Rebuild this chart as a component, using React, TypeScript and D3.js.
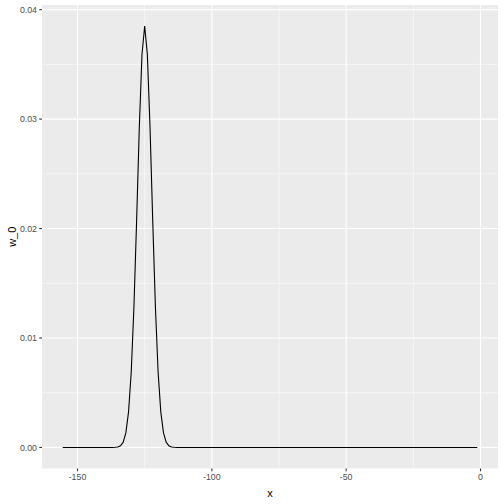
import React from 'react';
import * as d3 from 'd3';

// x values of the density curve, and w_0 values
const xValues = [
  -155.5, -137, -136, -135, -134, -133, -132, -131, -130, -129, -128, -127, -126, -125,
  -124, -123, -122, -121, -120, -119, -118, -117, -116, -115, -114, -113, -1.2,
];
const wValues = [
  0, 0, 0.00001, 0.00004, 0.00015, 0.00048, 0.00133, 0.00325, 0.0069, 0.0128, 0.0207, 0.0292, 0.0359, 0.0385,
  0.0359, 0.0292, 0.0207, 0.0128, 0.0069, 0.00325, 0.00133, 0.00048, 0.00015, 0.00004, 0.00001, 0, 0,
];

const xBreaks = [-150, -100, -50, 0];
const xMinor = [-125, -75, -25];
const yBreaks = [0, 0.01, 0.02, 0.03, 0.04];
const yMinor = [0.005, 0.015, 0.025, 0.035];

const sizing = {
  width: 504,
  height: 504,
  left: 42,
  right: 498,
  top: 5,
  bottom: 468.5,
};

const textStyle = {
  family: '"Liberation Sans", Arial, sans-serif',
  tick: '#4D4D4D',
  title: '#000000',
};

const expand = (lo: number, hi: number): [number, number] => {
  const pad = (hi - lo) * 0.05;
  return [lo - pad, hi + pad];
};

export default function App(): React.ReactElement {
  const points = xValues.map((x, i) => ({x, w: wValues[i]}));

  const xScale = d3.scaleLinear()
    .domain(expand(d3.min(xValues) as number, d3.max(xValues) as number))
    .range([sizing.left, sizing.right]);

  const yScale = d3.scaleLinear()
    .domain(expand(d3.min(wValues) as number, d3.max(wValues) as number))
    .range([sizing.bottom, sizing.top]);

  const line = d3.line<{x: number; w: number}>()
    .x(d => xScale(d.x))
    .y(d => yScale(d.w));

  const panelW = sizing.right - sizing.left;
  const panelH = sizing.bottom - sizing.top;

  return (
    <svg
      width={sizing.width}
      height={sizing.height}
      style={{position: 'fixed', left: 0, top: 0, background: '#fff'}}
    >
      <rect x={sizing.left} y={sizing.top} width={panelW} height={panelH} fill="#EBEBEB" />
      {yMinor.map(v => (
        <line key={`ym${v}`} x1={sizing.left} x2={sizing.right} y1={yScale(v)} y2={yScale(v)}
          stroke="#fff" strokeWidth={0.55} />
      ))}
      {xMinor.map(v => (
        <line key={`xm${v}`} x1={xScale(v)} x2={xScale(v)} y1={sizing.top} y2={sizing.bottom}
          stroke="#fff" strokeWidth={0.55} />
      ))}
      {yBreaks.map(v => (
        <line key={`yg${v}`} x1={sizing.left} x2={sizing.right} y1={yScale(v)} y2={yScale(v)}
          stroke="#fff" strokeWidth={1.1} />
      ))}
      {xBreaks.map(v => (
        <line key={`xg${v}`} x1={xScale(v)} x2={xScale(v)} y1={sizing.top} y2={sizing.bottom}
          stroke="#fff" strokeWidth={1.1} />
      ))}

      <path d={line(points) || ''} fill="none" stroke="#000" strokeWidth={1.1} />

      {/* y axis */}
      {yBreaks.map(v => (
        <g key={`yt${v}`}>
          <line x1={sizing.left - 2.75} x2={sizing.left} y1={yScale(v)} y2={yScale(v)}
            stroke="#333333" strokeWidth={1.1} />
          <text x={sizing.left - 5} y={yScale(v)} dy="0.35em" textAnchor="end"
            fontFamily={textStyle.family} fontSize={8.8} fill={textStyle.tick}>
            {d3.format('.2f')(v)}
          </text>
        </g>
      ))}
      {/* x axis */}
      {xBreaks.map(v => (
        <g key={`xt${v}`}>
          <line x1={xScale(v)} x2={xScale(v)} y1={sizing.bottom} y2={sizing.bottom + 2.75}
            stroke="#333333" strokeWidth={1.1} />
          <text x={xScale(v)} y={sizing.bottom + 5} dy="0.75em" textAnchor="middle"
            fontFamily={textStyle.family} fontSize={8.8} fill={textStyle.tick}>
            {v}
          </text>
        </g>
      ))}

      <text x={sizing.left + panelW / 2} y={497} textAnchor="middle"
        fontFamily={textStyle.family} fontSize={11} fill={textStyle.title}>x</text>
      <text transform={`translate(16, ${sizing.top + panelH / 2}) rotate(-90)`} textAnchor="middle"
        fontFamily={textStyle.family} fontSize={11} fill={textStyle.title}>w_0</text>
    </svg>
  );
}
